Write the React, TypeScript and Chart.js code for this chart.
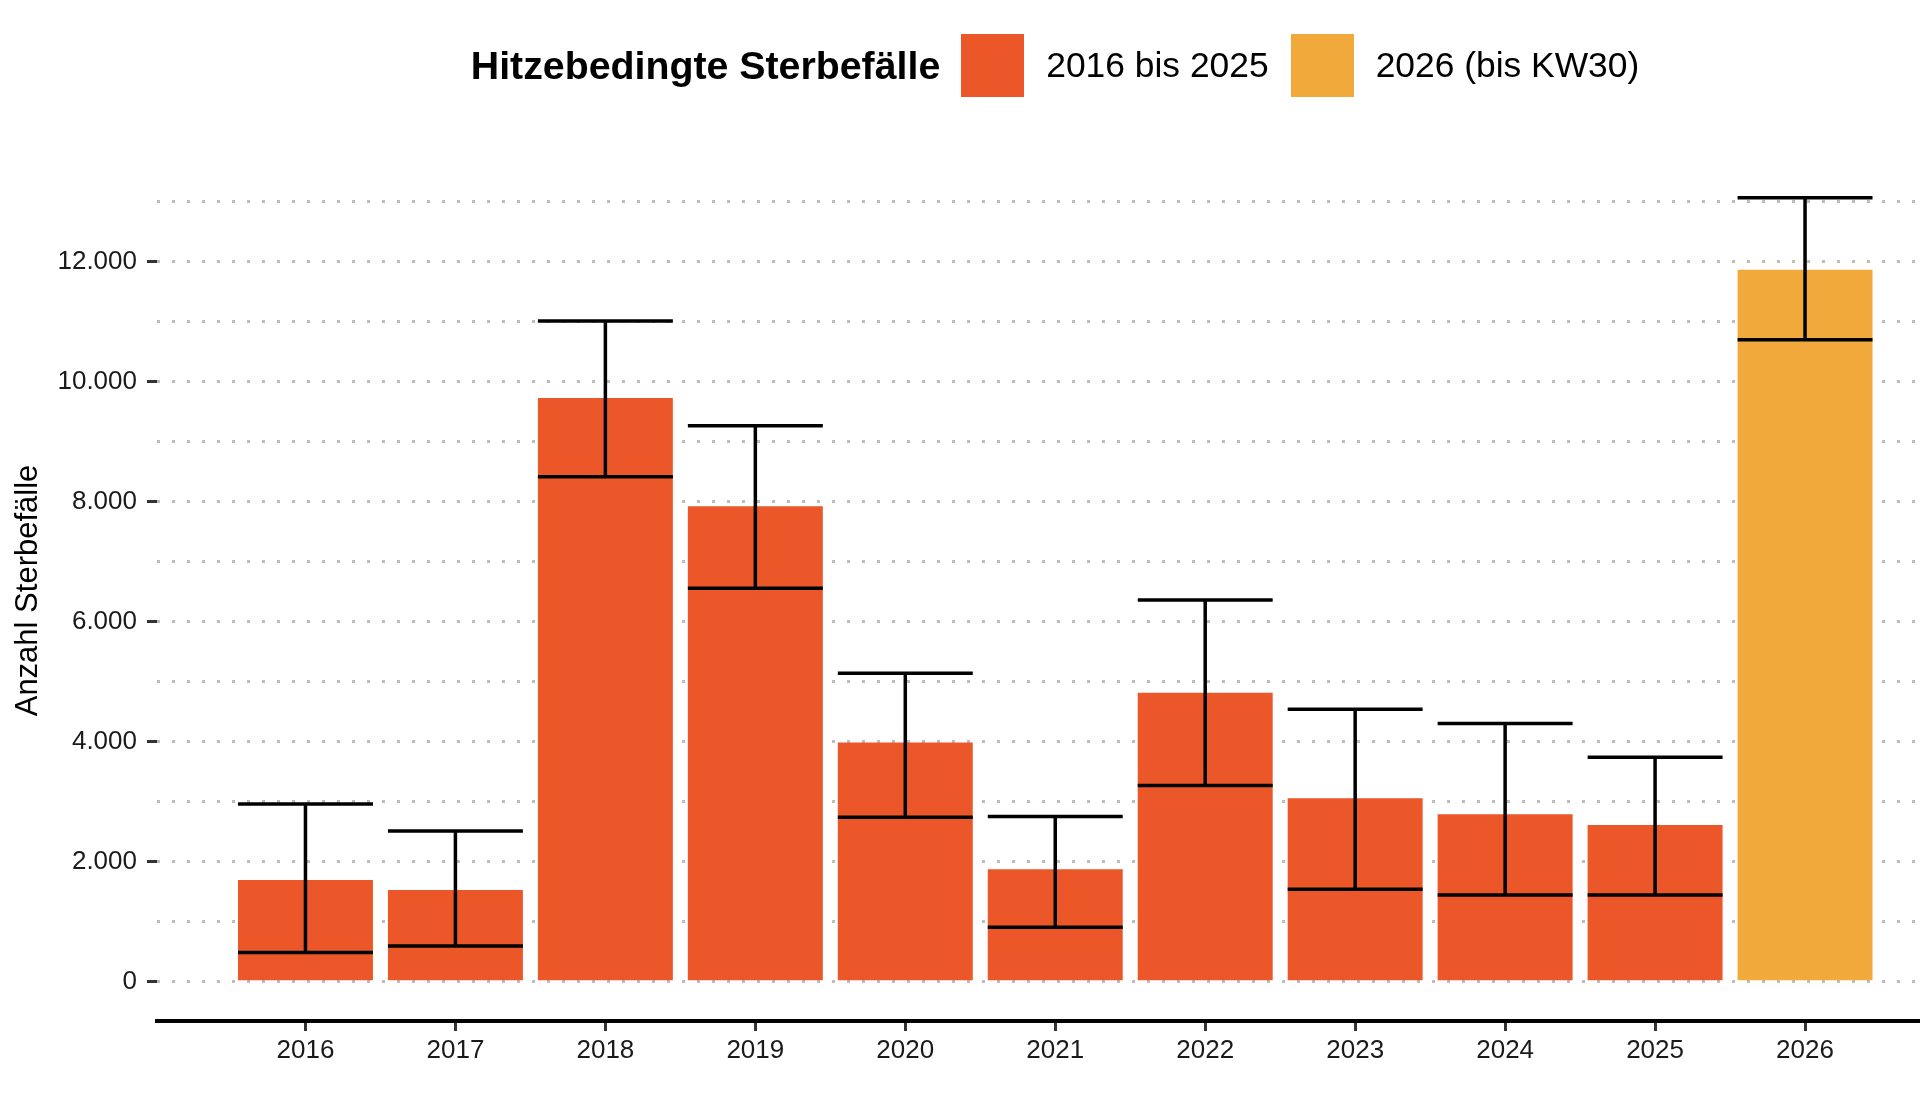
import React, { useEffect, useRef } from "react";
import { Chart, registerables } from "chart.js";

Chart.register(...registerables);

// Werte (geschätzt)
const years = ["2016", "2017", "2018", "2019", "2020", "2021", "2022", "2023", "2024", "2025", "2026"];
const pastDeaths = [1695, 1528, 9730, 7925, 3985, 1873, 4815, 3057, 2790, 2610]; // 2016 bis 2025
const currentDeaths = [11865]; // 2026 (bis KW30)
const lowerBounds = [485, 595, 8417, 6556, 2742, 908, 3268, 1542, 1445, 1445, 10700];
const upperBounds = [2960, 2512, 11010, 9267, 5140, 2752, 6362, 4541, 4305, 3740, 13065];

const seriesLabels = ["2016 bis 2025", "2026 (bis KW30)"];
const seriesColors = ["#EC5729", "#F1A93C"];
const yGridValues = [0, 1000, 2000, 3000, 4000, 5000, 6000, 7000, 8000, 9000, 10000, 11000, 12000, 13000];

const legendTitle = "Hitzebedingte Sterbefälle";
const yAxisTitle = "Anzahl Sterbefälle";

const FONT = "'Liberation Sans', Arial, Helvetica, sans-serif";
const BAR_SHARE = 0.9;

const formatDe = (v: number) => String(v).replace(/\B(?=(\d{3})+(?!\d))/g, ".");

// Fehlerbalken über die Skalen des Diagramms zeichnen
const errorBarPlugin = {
  id: "errorBars",
  afterDatasetsDraw(chart: any) {
    const { ctx, scales } = chart;
    const x = scales.x;
    const y = scales.y;
    const half = ((x.getPixelForValue(1) - x.getPixelForValue(0)) * BAR_SHARE) / 2;
    ctx.save();
    ctx.strokeStyle = "#000";
    ctx.lineWidth = 3.5;
    for (let i = 0; i < years.length; i++) {
      const cx = x.getPixelForValue(i);
      const yl = y.getPixelForValue(lowerBounds[i]);
      const yu = y.getPixelForValue(upperBounds[i]);
      ctx.beginPath();
      ctx.moveTo(cx, yl);
      ctx.lineTo(cx, yu);
      ctx.moveTo(cx - half, yu);
      ctx.lineTo(cx + half, yu);
      ctx.moveTo(cx - half, yl);
      ctx.lineTo(cx + half, yl);
      ctx.stroke();
    }
    ctx.restore();
  },
};

export default function App() {
  const canvasRef = useRef<HTMLCanvasElement | null>(null);

  useEffect(() => {
    if (!canvasRef.current) return;
    Chart.defaults.font.family = FONT;

    const chart = new Chart(canvasRef.current, {
      type: "bar",
      data: {
        datasets: [
          {
            label: seriesLabels[0],
            data: pastDeaths.map((v, i) => ({ x: i, y: v })),
            backgroundColor: seriesColors[0],
          },
          {
            label: seriesLabels[1],
            data: currentDeaths.map((v, i) => ({ x: pastDeaths.length + i, y: v })),
            backgroundColor: seriesColors[1],
          },
        ],
      },
      options: {
        animation: false,
        responsive: true,
        maintainAspectRatio: false,
        events: [],
        layout: { padding: { top: 160, left: 0, right: 0, bottom: 0 } },
        datasets: {
          bar: {
            grouped: false,
            categoryPercentage: BAR_SHARE,
            barPercentage: 1,
            borderWidth: 0,
          },
        },
        plugins: {
          legend: { display: false },
          tooltip: { enabled: false },
        },
        scales: {
          x: {
            type: "linear",
            offset: false,
            min: -0.99,
            max: 11,
            afterBuildTicks: (s: any) => {
              s.ticks = years.map((_, i) => ({ value: i }));
            },
            afterFit: (s: any) => {
              s.height = 91;
            },
            ticks: {
              autoSkip: false,
              maxRotation: 0,
              padding: 4,
              color: "#1a1a1a",
              font: { size: 26 },
              callback: (v: any) => years[Number(v)] ?? "",
            },
            grid: {
              display: true,
              offset: false,
              drawOnChartArea: false,
              drawTicks: true,
              tickLength: 10,
              tickWidth: 3,
              tickColor: "#333",
            },
            border: { display: true, color: "#000", width: 4 },
          },
          y: {
            min: -655,
            max: 13695,
            afterBuildTicks: (s: any) => {
              s.ticks = yGridValues.map((v) => ({ value: v }));
            },
            afterFit: (s: any) => {
              s.width = 157;
            },
            ticks: {
              padding: 10,
              color: "#1a1a1a",
              font: { size: 26 },
              callback: (v: any) => (Number(v) % 2000 === 0 ? formatDe(Number(v)) : ""),
            },
            grid: {
              color: "#bdbdbd",
              lineWidth: 3,
              drawTicks: true,
              tickLength: 10,
              tickWidth: 3,
              tickColor: (c: any) => (c.tick && c.tick.value % 2000 === 0 ? "#333" : "rgba(0,0,0,0)"),
            },
            border: { display: false, dash: [3, 12] },
            title: {
              display: true,
              text: yAxisTitle,
              color: "#000",
              font: { size: 31 },
              padding: { top: 10, bottom: 0 },
            },
          },
        },
      } as any,
      plugins: [errorBarPlugin],
    });

    return () => chart.destroy();
  }, []);

  return (
    <div
      style={{
        position: "fixed",
        top: 0,
        left: 0,
        width: 1920,
        height: 1112,
        overflow: "hidden",
        background: "#fff",
        fontFamily: FONT,
      }}
    >
      <div style={{ position: "absolute", top: 0, left: 0, width: 1955, height: 1112 }}>
        <canvas ref={canvasRef} />
      </div>
      <div
        style={{
          position: "absolute",
          top: 34,
          left: 0,
          width: 2110,
          height: 63,
          display: "flex",
          justifyContent: "center",
          alignItems: "center",
          color: "#000",
          lineHeight: 1,
          whiteSpace: "nowrap",
        }}
      >
        <span style={{ fontWeight: "bold", fontSize: 39.3, marginRight: 21 }}>{legendTitle}</span>
        {seriesLabels.map((label, i) => (
          <React.Fragment key={label}>
            <span
              style={{
                display: "inline-block",
                width: 63,
                height: 63,
                background: seriesColors[i],
                marginRight: 22,
              }}
            />
            <span style={{ fontSize: 35.4, marginRight: i < seriesLabels.length - 1 ? 22 : 0 }}>{label}</span>
          </React.Fragment>
        ))}
      </div>
    </div>
  );
}
